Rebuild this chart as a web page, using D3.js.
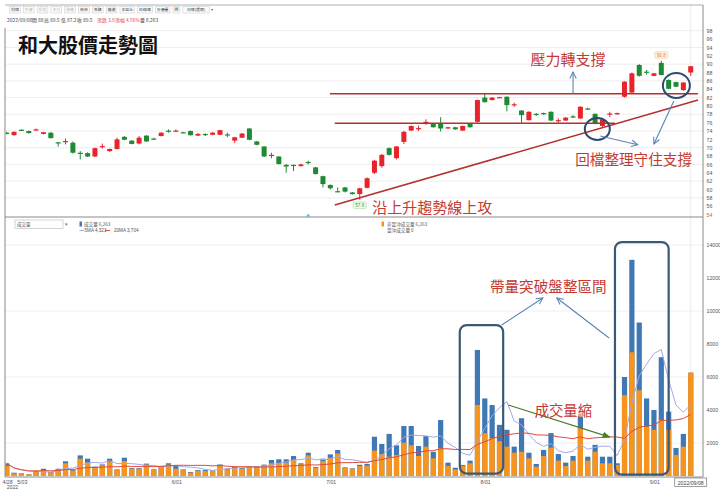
<!DOCTYPE html>
<html><head><meta charset="utf-8">
<script src="https://cdn.jsdelivr.net/npm/d3@7"></script>
<style>
html,body{margin:0;padding:0;background:#fff;}
svg{display:block;font-family:"Liberation Sans",Arial,sans-serif;}
</style></head><body>
<svg id="c" width="720" height="490"></svg>
<script>
// ---------------- data ----------------
const dates = ["4/28","4/29",
"5/03","5/04","5/05","5/06","5/09","5/10","5/11","5/12","5/13","5/16","5/17","5/18","5/19","5/20","5/23","5/24","5/25","5/26","5/27","5/30","5/31",
"6/01","6/02","6/06","6/07","6/08","6/09","6/10","6/13","6/14","6/15","6/16","6/17","6/20","6/21","6/22","6/23","6/24","6/27","6/28","6/29","6/30",
"7/01","7/04","7/05","7/06","7/07","7/08","7/11","7/12","7/13","7/14","7/15","7/18","7/19","7/20","7/21","7/22","7/25","7/26","7/27","7/28","7/29",
"8/01","8/02","8/03","8/04","8/05","8/08","8/09","8/10","8/11","8/12","8/15","8/16","8/17","8/18","8/19","8/22","8/23","8/24","8/25","8/26","8/29","8/30","8/31",
"9/01","9/02","9/05","9/06","9/07","9/08"];

const open  = [73.6,73.0,74.3,74.0,74.3,73.3,73.6,71.3,71.5,71.2,68.8,68.7,67.9,70.3,69.2,69.7,72.6,71.7,71.0,72.9,72.2,72.8,74.1,74.0,73.7,74.0,72.9,73.3,73.1,73.1,73.2,71.7,72.4,74.6,71.5,70.3,68.2,67.9,65.9,65.9,65.6,66.6,65.3,63.2,61.1,59.6,60.5,59.3,58.9,60.4,64.0,65.6,69.9,67.5,71.4,74.1,74.6,76.1,75.7,75.7,74.6,74.9,74.1,75.7,76.2,82.0,81.4,82.0,82.2,80.3,78.9,76.6,78.1,78.3,78.6,76.5,76.5,77.5,77.0,79.4,78.1,75.2,78.1,78.0,82.2,83.2,89.8,88.2,87.2,90.3,86.2,85.7,83.8,88.0];
const high  = [73.8,73.9,74.4,74.1,74.6,73.8,73.7,71.4,72.2,71.5,69.2,68.9,70.0,71.0,69.8,72.4,72.8,71.8,72.8,73.0,72.4,73.7,74.4,74.4,73.8,74.1,73.5,73.4,73.7,74.3,73.6,72.6,73.5,74.7,71.6,70.4,68.8,68.0,66.1,66.0,66.2,66.9,65.4,63.3,61.2,60.5,60.6,59.4,60.4,62.9,67.1,68.5,70.1,70.4,74.0,75.3,75.3,76.8,75.8,77.3,75.0,75.0,75.3,75.8,81.5,83.0,82.1,82.2,82.3,80.8,79.0,78.7,78.3,78.4,78.7,77.0,77.3,77.8,79.9,79.6,78.2,76.9,78.6,78.4,85.9,88.0,90.0,88.6,87.9,90.8,86.4,85.8,85.7,89.5];
const low   = [73.2,72.9,74.0,73.4,74.1,73.2,72.2,70.3,70.8,68.6,67.2,67.8,67.8,69.8,69.0,69.6,71.8,70.8,70.8,71.4,71.9,72.7,73.6,73.8,73.5,72.9,72.8,72.8,73.0,73.0,72.5,71.1,72.3,71.8,70.6,67.8,67.5,66.0,64.0,64.4,65.5,66.0,63.6,60.5,60.0,59.4,59.3,58.8,57.6,60.3,63.7,65.2,68.1,67.2,70.9,74.0,74.0,75.5,74.8,73.9,74.5,74.3,74.0,74.8,76.0,80.8,81.3,81.9,78.7,79.8,75.8,76.5,77.6,77.9,76.4,76.0,76.4,77.1,76.9,79.1,75.6,75.0,77.3,77.9,82.0,83.0,87.0,87.5,87.1,87.3,84.0,84.5,83.6,87.2];
const close = [73.3,73.8,74.2,73.5,74.4,73.7,72.3,71.2,71.6,68.8,68.7,67.9,69.9,70.4,69.7,72.0,71.9,70.9,72.4,71.5,72.1,73.6,74.0,74.1,73.6,73.0,73.3,73.1,73.6,74.2,73.1,72.5,73.4,71.9,70.7,67.9,68.3,66.1,65.5,65.8,66.0,66.5,63.7,61.3,60.3,59.5,59.5,58.9,60.3,62.7,66.9,68.3,68.3,70.3,73.8,75.2,74.7,76.2,74.9,74.6,74.9,74.4,75.2,74.9,81.4,80.9,82.0,82.1,80.2,80.4,77.8,78.6,78.0,78.0,76.5,76.6,77.2,77.4,79.8,79.3,75.8,76.8,78.2,78.3,85.8,87.8,87.2,88.1,87.8,87.4,84.1,84.6,85.6,89.5];

const volume  = [770,200,160,100,300,440,240,440,890,360,1250,1050,570,700,1050,400,1110,480,480,750,400,600,770,650,400,240,360,360,340,700,440,545,480,600,600,690,970,1010,1010,1210,770,1410,545,1050,1310,1575,525,465,680,730,2380,1940,2550,1860,3030,3030,1820,2420,1470,3390,810,500,670,930,7640,4700,4300,3100,2800,1780,3500,1410,730,1580,2600,1330,810,1210,3600,1170,1890,1170,1170,770,6000,13100,9300,4700,4000,7200,3900,1700,2550,6263];
const volNonDT = [610,160,140,100,260,360,220,400,770,320,1050,810,525,650,850,360,910,440,440,690,360,545,690,440,360,200,320,300,300,670,400,485,440,565,565,650,770,770,810,970,710,1250,505,910,1110,1370,485,425,600,630,1540,1330,1170,1270,2020,1860,1210,1780,1070,1680,610,400,610,770,4300,2600,2300,2100,1780,1410,1470,1070,570,1210,1720,930,610,930,2900,930,1470,770,770,670,4900,7500,5200,3000,2800,3400,2800,1270,1780,6263];

const priceTicks = d3.range(54, 99, 2);
const priceGrid = d3.range(58, 99, 4);
const volTicks = [2000,4000,6000,8000,10000,12000,14000];
const volGrid = [2000,6000,10000,14000];
const dateTicks = ["4/28","5/03","6/01","7/01","8/01","9/01"];
const lastDateLabel = "2022/09/08";
const eventDates = ["6/28"];

const toolbar = ["均線","外資","投信","主力","融資","布林","籌碼","權證","本益比","紅綠燈","分價量","回","日線(還原)"];
const toolbarOff = [false,true,true,true,true,false,false,false,false,false,false,false,false];

// annotations in data units (index, price / volume)
const resistance = {price: 82.9, from: 43.95, to: 94.0};
const support = {price: 75.85, from: 44.6, to: 82.7};
const trendLine = [[44.6, 56.3],[94.0, 81.4]];
const priceEllipses = [{i: 80.3, p: 74.5, rx: 12.5, ry: 11}, {i: 91.05, p: 84.9, rx: 13.5, ry: 12.5}];
const volBoxes = [{i0: 61.6, i1: 67.5, v0: 150, v1: 9150}, {i0: 82.7, i1: 90.0, v0: 80, v1: 14180}];
const priceArrows = [[[77.0, 83.1],[77.0, 88.1]], [[80.7, 72.8],[85.8, 70.7]], [[90.7, 81.2],[88.0, 70.9]]];
const volArrows = [[[67.3, 9150],[72.9, 10790]], [[81.9, 8360],[74.8, 10790]]];
const greenArrow = [[68.2, 4300],[82.0, 2360]];
const priceNotes = [
  {t:"壓力轉支撐", i:76.3, p:89.8, anchor:"middle", size:15},
  {t:"回檔整理守住支撐", i:77.3, p:65.9, anchor:"start", size:14.6},
  {t:"沿上升趨勢線上攻", i:49.7, p:54.4, anchor:"start", size:15}
];
const volNotes = [
  {t:"帶量突破盤整區間", i:65.7, v:11150, size:14.6},
  {t:"成交量縮", i:71.8, v:3640, size:14.3}
];

// ---------------- scales ----------------
const svg = d3.select("#c");
const L = 5, R = 703, PT = 28, SEP = 217, VB = 477;
const x = d3.scaleBand().domain(dates).range([3.02, 694.4]);
const cx = d => x(d) + x.bandwidth() / 2;
const xi = d3.scaleLinear().domain([0, dates.length - 1]).range([cx(dates[0]), cx(dates[dates.length - 1])]);
const yP = d3.scaleLinear().domain([54, 98]).range([214.6, 30.7]);
const yV = d3.scaleLinear().domain([0, 14000]).range([476, 245]);
const RED = "#e8232b", GREEN = "#1f8a34", NOTE = "#c43a33";
const CJK = "'Noto Sans CJK TC','Noto Sans CJK SC',sans-serif";

const defs = svg.append("defs");
defs.append("clipPath").attr("id","cp").append("rect").attr("x",L+0.5).attr("y",PT).attr("width",R-L-0.5).attr("height",SEP-PT);
defs.append("clipPath").attr("id","cv").append("rect").attr("x",L+0.5).attr("y",SEP+1).attr("width",R-L-0.5).attr("height",VB-SEP-1);
defs.append("marker").attr("id","ab").attr("viewBox","0 0 10 10").attr("refX",9).attr("refY",5)
  .attr("markerWidth",8).attr("markerHeight",8).attr("markerUnits","userSpaceOnUse").attr("orient","auto")
  .append("path").attr("d","M1,1 L9,5 L1,9").attr("fill","none").attr("stroke","#5b83b5").attr("stroke-width",1.3);
defs.append("marker").attr("id","ag").attr("viewBox","0 0 10 10").attr("refX",9).attr("refY",5)
  .attr("markerWidth",8).attr("markerHeight",8).attr("markerUnits","userSpaceOnUse").attr("orient","auto")
  .append("path").attr("d","M0,1 L10,5 L0,9 Z").attr("fill","#4f7a28");

// ---------------- grid ----------------
svg.append("g").selectAll("line").data(priceGrid).join("line")
  .attr("x1",L).attr("x2",R).attr("y1",d=>yP(d)).attr("y2",d=>yP(d)).attr("stroke","#eeeeee");
svg.append("g").selectAll("line").data(volGrid).join("line")
  .attr("x1",L).attr("x2",R).attr("y1",d=>yV(d)).attr("y2",d=>yV(d)).attr("stroke","#f0f0f0");
svg.append("line").attr("x1",cx(dates[dates.length-1])).attr("x2",cx(dates[dates.length-1]))
  .attr("y1",5).attr("y2",VB).attr("stroke","#eeeeee");

// ---------------- candles ----------------
const gC = svg.append("g").attr("clip-path","url(#cp)");
const idx = d3.range(dates.length);
const col = i => close[i] >= open[i] ? RED : GREEN;
gC.selectAll("line.w").data(idx).join("line").attr("class","w")
  .attr("x1",i=>cx(dates[i])).attr("x2",i=>cx(dates[i]))
  .attr("y1",i=>yP(high[i])).attr("y2",i=>yP(low[i])).attr("stroke",col).attr("stroke-width",1);
gC.selectAll("rect.b").data(idx).join("rect").attr("class","b")
  .attr("x",i=>cx(dates[i])-2.5).attr("width",5)
  .attr("y",i=>yP(Math.max(open[i],close[i])))
  .attr("height",i=>Math.max(1.2, Math.abs(yP(open[i])-yP(close[i]))))
  .attr("fill",col);

// high / low labels
const iMax = d3.maxIndex(high), iMin = d3.minIndex(low);
function tag(i, val, above, stroke, fill, tcol){
  const g = svg.append("g");
  const yy = above ? yP(val) - 9 : yP(val) + 2.5;
  g.append("rect").attr("x",cx(dates[i])-6.5).attr("y",yy).attr("width",13).attr("height",6.5)
    .attr("rx",1).attr("fill",fill).attr("stroke",stroke).attr("stroke-width",0.6);
  g.append("text").attr("x",cx(dates[i])).attr("y",yy+5).attr("text-anchor","middle")
    .attr("font-size",4.6).attr("fill",tcol).text(val.toFixed(1));
}
tag(iMax, high[iMax], true, "#f3c58f", "#fff6ea", "#e57a22");
tag(iMin, low[iMin], false, "#a8d8a0", "#f1fbef", "#3a9a3a");

// event marker
svg.append("g").selectAll("path").data(eventDates).join("path")
  .attr("d",d=>`M${cx(d)-2},${SEP-0.5} L${cx(d)+2},${SEP-0.5} L${cx(d)},${SEP-3.5} Z`).attr("fill","#35c7e8");

// ---------------- volume ----------------
const gV = svg.append("g").attr("clip-path","url(#cv)");
gV.selectAll("rect.t").data(idx).join("rect").attr("class","t")
  .attr("x",i=>cx(dates[i])-2.6).attr("width",5.2)
  .attr("y",i=>yV(volume[i])).attr("height",i=>yV(0)-yV(volume[i])).attr("fill","#3f78b4");
gV.selectAll("rect.o").data(idx).join("rect").attr("class","o")
  .attr("x",i=>cx(dates[i])-2.6).attr("width",5.2)
  .attr("y",i=>yV(volNonDT[i])).attr("height",i=>yV(0)-yV(volNonDT[i])).attr("fill","#f7941d");
const ma = (arr,n) => arr.map((_,i)=>d3.mean(arr.slice(Math.max(0,i-n+1), i+1)));
const ma5 = ma(volume,5), ma20 = ma(volume,20);
const ln = d3.line().x((d,i)=>cx(dates[i])).y(d=>yV(d));
gV.append("path").attr("d",ln(ma5)).attr("fill","none").attr("stroke","#a3a9e6").attr("stroke-width",1);
gV.append("path").attr("d",ln(ma20)).attr("fill","none").attr("stroke","#e0493c").attr("stroke-width",1);

// ---------------- frame ----------------
const fr = svg.append("g").attr("stroke","#8a8a8a").attr("stroke-width",1).attr("fill","none");
fr.append("line").attr("x1",L).attr("x2",L).attr("y1",PT).attr("y2",VB);
fr.append("line").attr("x1",L).attr("x2",R).attr("y1",5).attr("y2",5).attr("stroke","#b0b0b0");
fr.append("line").attr("x1",R).attr("x2",R).attr("y1",5).attr("y2",VB);
fr.append("line").attr("x1",L).attr("x2",R).attr("y1",SEP).attr("y2",SEP);
fr.append("line").attr("x1",L).attr("x2",R).attr("y1",VB).attr("y2",VB);

// ---------------- axes ----------------
const ax1 = svg.append("g").attr("transform",`translate(${R},0)`)
  .call(d3.axisRight(yP).tickValues(priceTicks).tickSize(0).tickPadding(3.5).tickFormat(d3.format("d")));
ax1.select(".domain").remove();
ax1.selectAll("text").attr("font-size",5.2).attr("fill",d=>d===54?"#d9534f":"#555").attr("font-family","Liberation Sans");
const ax2 = svg.append("g").attr("transform",`translate(${R},0)`)
  .call(d3.axisRight(yV).tickValues(volTicks).tickSize(0).tickPadding(3.5).tickFormat(d3.format("d")));
ax2.select(".domain").remove();
ax2.selectAll("text").attr("font-size",5.2).attr("fill","#555").attr("font-family","Liberation Sans");
const ax3 = svg.append("g").attr("transform",`translate(0,${VB})`)
  .call(d3.axisBottom(x).tickValues(dateTicks).tickSize(0).tickPadding(3));
ax3.select(".domain").remove();
ax3.selectAll("text").attr("font-size",5.2).attr("fill","#555").attr("text-anchor","start")
  .attr("dx",-x.bandwidth()/2 - 0.5).attr("font-family","Liberation Sans");
svg.append("text").attr("x",cx(dates[0])).attr("y",489).attr("font-size",5.2).attr("fill","#555").text("2022");
const lastX = cx(dates[dates.length-1]);
svg.append("rect").attr("x",lastX-16).attr("y",478).attr("width",32).attr("height",8.5)
  .attr("fill","#fff").attr("stroke","#777").attr("stroke-width",0.7);
svg.append("text").attr("x",lastX).attr("y",484.6).attr("text-anchor","middle").attr("font-size",5.2).attr("fill","#444").text(lastDateLabel);

// ---------------- toolbar & info ----------------
let tx = 9.5;
toolbar.forEach((t,k)=>{
  const w = t.length * 3.9 + 3;
  svg.append("rect").attr("x",tx).attr("y",6.5).attr("width",w).attr("height",6.5)
    .attr("fill","#fafafa").attr("stroke","#c8c8c8").attr("stroke-width",0.5);
  svg.append("text").attr("x",tx+w/2).attr("y",11.4).attr("text-anchor","middle").attr("font-size",3.9)
    .attr("font-family",CJK).attr("fill",toolbarOff[k]?"#b5b5b5":"#333").text(t);
  tx += w + 3;
});
svg.append("text").attr("x",tx-1).attr("y",11.4).attr("font-size",4).attr("fill","#555").text("▾");

const info = svg.append("text").attr("y",21.5).attr("font-size",4.9).attr("font-family",CJK).attr("fill","#444");
[["2022/09/08",7,"#444"],["開 88",32,"#444"],["高 89.5",44,"#444"],["低 87.2",61,"#444"],["收 89.5",77,"#444"],
 ["漲跌 3.9",97,"#e2494f"],["漲幅 4.56%",115,"#e2494f"],["量 6,263",140,"#444"]]
 .forEach(([t,xx,c])=>info.append("tspan").attr("x",xx).attr("fill",c).text(t));

svg.append("text").attr("x",18).attr("y",53).attr("font-size",20).attr("font-weight",700)
  .attr("font-family",CJK).attr("fill","#111").text("和大股價走勢圖");

// ---------------- volume legend ----------------
svg.append("rect").attr("x",15).attr("y",220).attr("width",48).attr("height",8.5).attr("fill","#fff").attr("stroke","#b8b8b8").attr("stroke-width",0.6);
svg.append("text").attr("x",17).attr("y",226.3).attr("font-size",4.5).attr("font-family",CJK).attr("fill","#555").text("成交量");
svg.append("text").attr("x",65).attr("y",226.3).attr("font-size",4.5).attr("fill","#777").text("▾");
svg.append("rect").attr("x",79.5).attr("y",221.5).attr("width",2.5).attr("height",5).attr("fill","#3f78b4");
svg.append("text").attr("x",84).attr("y",226).attr("font-size",4.6).attr("font-family",CJK).attr("fill","#555").text("成交量 6,263");
svg.append("line").attr("x1",79.5).attr("x2",84).attr("y1",230.5).attr("y2",230.5).attr("stroke","#a3a9e6");
svg.append("text").attr("x",84.5).attr("y",232.3).attr("font-size",4.6).attr("fill","#555").text("5MA 4,323");
svg.append("line").attr("x1",105).attr("x2",110).attr("y1",230.5).attr("y2",230.5).attr("stroke","#e0493c");
svg.append("text").attr("x",114).attr("y",232.3).attr("font-size",4.6).attr("fill","#555").text("20MA 3,704");
svg.append("rect").attr("x",381.5).attr("y",221.5).attr("width",2.5).attr("height",5).attr("fill","#f7941d");
svg.append("text").attr("x",387).attr("y",226).attr("font-size",4.6).attr("font-family",CJK).attr("fill","#555").text("非當沖成交量 6,263");
svg.append("text").attr("x",387).attr("y",232.3).attr("font-size",4.6).attr("font-family",CJK).attr("fill","#555").text("當沖成交量 0");

// ---------------- annotations ----------------
const an = svg.append("g");
an.append("line").attr("x1",xi(resistance.from)).attr("x2",xi(resistance.to))
  .attr("y1",yP(resistance.price)).attr("y2",yP(resistance.price)).attr("stroke","#b3312e").attr("stroke-width",1.5);
an.append("line").attr("x1",xi(support.from)).attr("x2",xi(support.to))
  .attr("y1",yP(support.price)).attr("y2",yP(support.price)).attr("stroke","#b3312e").attr("stroke-width",1.5);
an.append("line").attr("x1",xi(trendLine[0][0])).attr("y1",yP(trendLine[0][1]))
  .attr("x2",xi(trendLine[1][0])).attr("y2",yP(trendLine[1][1])).attr("stroke","#b3312e").attr("stroke-width",1.6);
an.selectAll("ellipse").data(priceEllipses).join("ellipse")
  .attr("cx",d=>xi(d.i)).attr("cy",d=>yP(d.p)).attr("rx",d=>d.rx).attr("ry",d=>d.ry)
  .attr("fill","none").attr("stroke","#2d4a6e").attr("stroke-width",2);
an.selectAll("rect.box").data(volBoxes).join("rect").attr("class","box")
  .attr("x",d=>xi(d.i0)).attr("width",d=>xi(d.i1)-xi(d.i0))
  .attr("y",d=>yV(d.v1)).attr("height",d=>yV(d.v0)-yV(d.v1))
  .attr("rx",7).attr("fill","none").attr("stroke","#3a5878").attr("stroke-width",2.2);
an.selectAll("line.pa").data(priceArrows).join("line").attr("class","pa")
  .attr("x1",d=>xi(d[0][0])).attr("y1",d=>yP(d[0][1])).attr("x2",d=>xi(d[1][0])).attr("y2",d=>yP(d[1][1]))
  .attr("stroke","#5b83b5").attr("stroke-width",1.1).attr("marker-end","url(#ab)");
an.selectAll("line.va").data(volArrows).join("line").attr("class","va")
  .attr("x1",d=>xi(d[0][0])).attr("y1",d=>yV(d[0][1])).attr("x2",d=>xi(d[1][0])).attr("y2",d=>yV(d[1][1]))
  .attr("stroke","#5b83b5").attr("stroke-width",1.1).attr("marker-end","url(#ab)");
an.append("line").attr("x1",xi(greenArrow[0][0])).attr("y1",yV(greenArrow[0][1]))
  .attr("x2",xi(greenArrow[1][0])).attr("y2",yV(greenArrow[1][1]))
  .attr("stroke","#4f7a28").attr("stroke-width",1.2).attr("marker-end","url(#ag)");
an.selectAll("text.pn").data(priceNotes).join("text").attr("class","pn")
  .attr("x",d=>xi(d.i)).attr("y",d=>yP(d.p)).attr("text-anchor",d=>d.anchor)
  .attr("font-size",d=>d.size).attr("font-family",CJK).attr("fill",NOTE).text(d=>d.t);
an.selectAll("text.vn").data(volNotes).join("text").attr("class","vn")
  .attr("x",d=>xi(d.i)).attr("y",d=>yV(d.v))
  .attr("font-size",d=>d.size).attr("font-family",CJK).attr("fill",NOTE).text(d=>d.t);
</script>
</body></html>
